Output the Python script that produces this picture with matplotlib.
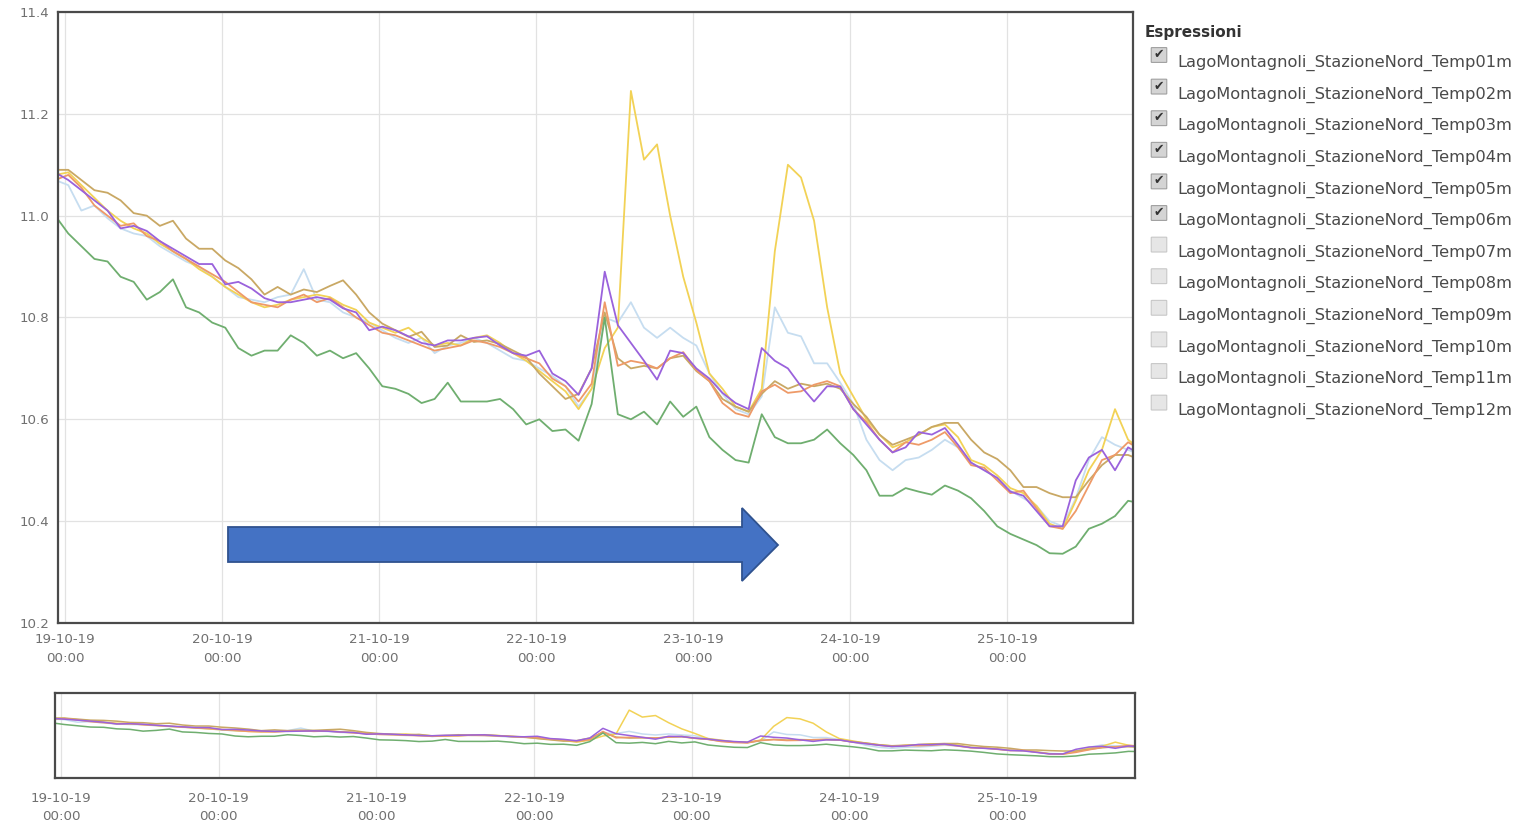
import matplotlib
matplotlib.use('Agg')
import matplotlib.pyplot as plt
import matplotlib.dates as mdates
from matplotlib.patches import FancyBboxPatch, Polygon
import pandas as pd
from datetime import datetime, timedelta

# Temperature series, one sample every 2 hours from 18-10-19 22:30
times = pd.date_range('2019-10-18 22:30', periods=84, freq='2h').to_pydatetime()

temp01 = [11.08, 11.085, 11.06, 11.035, 11.01, 10.99, 10.975, 10.965, 10.945, 10.93,
          10.915, 10.895, 10.88, 10.86, 10.845, 10.83, 10.82, 10.825, 10.835, 10.84,
          10.845, 10.84, 10.825, 10.815, 10.79, 10.78, 10.77, 10.78, 10.76, 10.745,
          10.75, 10.745, 10.76, 10.765, 10.75, 10.73, 10.715, 10.695, 10.675, 10.655,
          10.62, 10.66, 10.74, 10.78, 11.245, 11.11, 11.14, 11.0, 10.88, 10.79,
          10.69, 10.66, 10.625, 10.615, 10.66, 10.93, 11.10, 11.075, 10.99, 10.82,
          10.69, 10.645, 10.60, 10.57, 10.545, 10.555, 10.57, 10.585, 10.59, 10.565,
          10.52, 10.51, 10.49, 10.465, 10.455, 10.43, 10.395, 10.385, 10.44, 10.50,
          10.54, 10.62, 10.56, 10.54]
temp02 = [11.07, 11.06, 11.01, 11.02, 10.995, 10.975, 10.965, 10.96, 10.94, 10.925,
          10.91, 10.90, 10.88, 10.86, 10.84, 10.835, 10.83, 10.84, 10.845, 10.895,
          10.835, 10.83, 10.81, 10.80, 10.79, 10.775, 10.76, 10.75, 10.76, 10.73,
          10.745, 10.75, 10.76, 10.75, 10.735, 10.72, 10.715, 10.70, 10.685, 10.665,
          10.625, 10.66, 10.80, 10.79, 10.83, 10.78, 10.76, 10.78, 10.76, 10.745,
          10.69, 10.65, 10.62, 10.61, 10.645, 10.82, 10.77, 10.763, 10.71, 10.71,
          10.672, 10.63, 10.56, 10.52, 10.50, 10.52, 10.525, 10.54, 10.56, 10.545,
          10.515, 10.50, 10.485, 10.46, 10.445, 10.43, 10.40, 10.39, 10.445, 10.52,
          10.565, 10.55, 10.54, 10.53]
temp03 = [11.085, 11.07, 11.05, 11.03, 11.01, 10.975, 10.98, 10.97, 10.95, 10.935,
          10.92, 10.905, 10.905, 10.865, 10.87, 10.857, 10.838, 10.83, 10.83, 10.835,
          10.84, 10.835, 10.818, 10.81, 10.775, 10.782, 10.775, 10.763, 10.75, 10.745,
          10.755, 10.755, 10.76, 10.763, 10.745, 10.73, 10.725, 10.735, 10.69, 10.675,
          10.648, 10.70, 10.89, 10.785, 10.75, 10.715, 10.678, 10.735, 10.73, 10.70,
          10.68, 10.652, 10.632, 10.62, 10.74, 10.715, 10.70, 10.665, 10.635, 10.665,
          10.664, 10.62, 10.59, 10.56, 10.535, 10.545, 10.575, 10.57, 10.583, 10.55,
          10.515, 10.50, 10.485, 10.458, 10.45, 10.42, 10.39, 10.39, 10.48, 10.525,
          10.54, 10.50, 10.545, 10.53]
temp04 = [11.07, 11.08, 11.055, 11.02, 11.0, 10.98, 10.985, 10.96, 10.95, 10.93,
          10.915, 10.90, 10.885, 10.87, 10.85, 10.83, 10.825, 10.82, 10.835, 10.845,
          10.83, 10.838, 10.82, 10.80, 10.785, 10.77, 10.765, 10.755, 10.745, 10.735,
          10.74, 10.745, 10.755, 10.75, 10.742, 10.73, 10.72, 10.71, 10.68, 10.665,
          10.635, 10.67, 10.83, 10.705, 10.715, 10.71, 10.70, 10.72, 10.732, 10.697,
          10.675, 10.632, 10.612, 10.605, 10.655, 10.668, 10.652, 10.655, 10.668, 10.675,
          10.665, 10.62, 10.595, 10.56, 10.535, 10.555, 10.55, 10.56, 10.575, 10.545,
          10.51, 10.505, 10.48, 10.455, 10.46, 10.425, 10.39, 10.385, 10.42, 10.47,
          10.52, 10.53, 10.555, 10.54]
temp05 = [11.09, 11.09, 11.07, 11.05, 11.045, 11.03, 11.005, 11.0, 10.98, 10.99,
          10.955, 10.935, 10.935, 10.912, 10.897, 10.875, 10.845, 10.86, 10.845, 10.855,
          10.85, 10.862, 10.873, 10.845, 10.81, 10.788, 10.775, 10.762, 10.772, 10.742,
          10.745, 10.765, 10.752, 10.755, 10.748, 10.735, 10.722, 10.69, 10.665, 10.64,
          10.65, 10.70, 10.81, 10.72, 10.70, 10.705, 10.70, 10.72, 10.725, 10.695,
          10.675, 10.64, 10.625, 10.615, 10.65, 10.675, 10.66, 10.67, 10.665, 10.67,
          10.66, 10.63, 10.605, 10.57, 10.55, 10.56, 10.57, 10.585, 10.593, 10.593,
          10.56, 10.535, 10.522, 10.50, 10.467, 10.467, 10.455, 10.447, 10.447, 10.48,
          10.51, 10.53, 10.53, 10.52]
temp06 = [11.00, 10.965, 10.94, 10.915, 10.91, 10.88, 10.87, 10.835, 10.85, 10.875,
          10.82, 10.81, 10.79, 10.78, 10.74, 10.725, 10.735, 10.735, 10.765, 10.75,
          10.725, 10.735, 10.72, 10.73, 10.70, 10.665, 10.66, 10.65, 10.632, 10.64,
          10.672, 10.635, 10.635, 10.635, 10.64, 10.62, 10.59, 10.60, 10.577, 10.58,
          10.558, 10.63, 10.80, 10.61, 10.60, 10.615, 10.59, 10.635, 10.605, 10.625,
          10.565, 10.54, 10.52, 10.515, 10.61, 10.565, 10.553, 10.553, 10.56, 10.58,
          10.553, 10.53, 10.50, 10.45, 10.45, 10.465, 10.458, 10.452, 10.47, 10.46,
          10.445, 10.42, 10.39, 10.375, 10.364, 10.353, 10.337, 10.336, 10.35, 10.385,
          10.395, 10.41, 10.44, 10.435]

series_names = ['LagoMontagnoli_StazioneNord_Temp%02dm' % i for i in range(1, 13)]
checked = [True] * 6 + [False] * 6

# draw order and colours (purple on top)
lines = [
    (temp02, '#c6ddf0'),
    (temp01, '#f2d256'),
    (temp05, '#c9a864'),
    (temp04, '#ee9a68'),
    (temp06, '#6fae6f'),
    (temp03, '#9a62dc'),
]

y_ticks = [10.2, 10.4, 10.6, 10.8, 11.0, 11.2, 11.4]

W, H = 1524, 824


def fx(x):
    return x / W


def fy(y):
    return 1 - y / H


fig = plt.figure(figsize=(W / 100, H / 100), dpi=100)
fig.patch.set_facecolor('white')

t0 = datetime(2019, 10, 19)
day_ticks = [t0 + timedelta(days=d) for d in range(7)]
date_fmt = mdates.DateFormatter('%d-%m-%y\n%H:%M')
tick_color = '#707070'

# main chart
ax = fig.add_axes([fx(58), fy(623), fx(1133) - fx(58), fy(12) - fy(623)])
for vals, col in lines:
    ax.plot(times, vals, color=col, lw=1.3, solid_joinstyle='round')
ax.set_xlim(t0 - timedelta(hours=1.07), t0 + timedelta(hours=163.25))
ax.set_ylim(10.2, 11.4)
ax.set_yticks(y_ticks)
ax.set_yticklabels(['%.1f' % v for v in y_ticks])
ax.set_xticks(day_ticks)
ax.xaxis.set_major_formatter(date_fmt)
ax.grid(True, color='#e2e2e2', lw=0.9)
ax.set_axisbelow(True)
ax.tick_params(axis='both', length=0, labelsize=9.6, labelcolor=tick_color)
ax.tick_params(axis='x', pad=7.5)
ax.tick_params(axis='y', pad=6)
for lbl in ax.get_xticklabels():
    lbl.set_linespacing(1.55)
for s in ax.spines.values():
    s.set_color('#4a4a4a')
    s.set_linewidth(1.6)

# navigator
nav = fig.add_axes([fx(55), fy(778), fx(1135) - fx(55), fy(693) - fy(778)])
for vals, col in lines:
    nav.plot(times, vals, color=col, lw=1.1)
nav.set_xlim(t0 - timedelta(hours=0.91), t0 + timedelta(hours=163.5))
nav.set_ylim(9.92, 11.58)
nav.set_yticks([])
nav.set_xticks(day_ticks)
nav.xaxis.set_major_formatter(date_fmt)
nav.grid(True, axis='x', color='#e2e2e2', lw=0.9)
nav.tick_params(axis='both', length=0, labelsize=9.6, labelcolor=tick_color)
nav.tick_params(axis='x', pad=10)
for lbl in nav.get_xticklabels():
    lbl.set_linespacing(1.55)
for s in nav.spines.values():
    s.set_color('#4a4a4a')
    s.set_linewidth(1.6)

# blue arrow drawn over the chart
arrow_px = [(228, 527), (742, 527), (742, 508), (778, 545), (742, 581),
            (742, 562), (228, 562)]
fig.patches.append(Polygon([(fx(x), fy(y)) for x, y in arrow_px], closed=True,
                           transform=fig.transFigure, facecolor='#4472c4',
                           edgecolor='#2f528f', lw=1.3, zorder=5))

# legend with checkboxes
fig.text(fx(1145), fy(32), 'Espressioni', fontsize=11, fontweight='bold',
         color='#333333', va='center', ha='left')
for i, (name, on) in enumerate(zip(series_names, checked)):
    yc = 63 + i * 31.6
    box = FancyBboxPatch((fx(1152), fy(yc - 1)), fx(14), 14 / H,
                         boxstyle='round,pad=0.0005', transform=fig.transFigure,
                         facecolor='#d4d4d4' if on else '#e6e6e6',
                         edgecolor='#a0a0a0' if on else '#c8c8c8', lw=0.8)
    fig.patches.append(box)
    if on:
        fig.text(fx(1159), fy(yc - 8.5), '\u2714', fontsize=9, color='#333333',
                 ha='center', va='center')
    fig.text(fx(1177), fy(yc), name, fontsize=11.7, color='#4a4a4a',
             ha='left', va='center')

fig.savefig('out.png', dpi=100, facecolor='white')
